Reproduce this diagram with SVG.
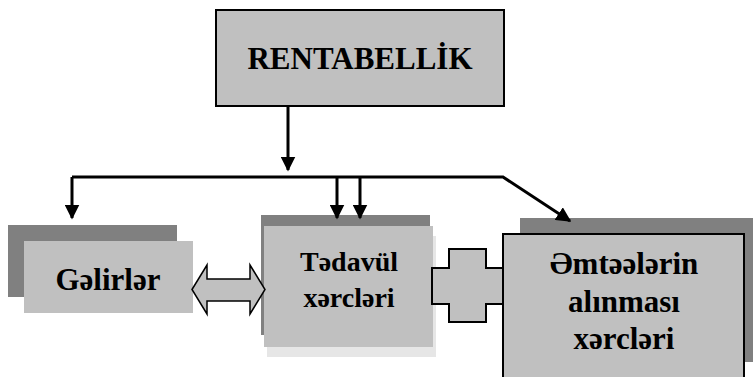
<svg xmlns="http://www.w3.org/2000/svg" width="753" height="377" viewBox="0 0 753 377">
<style>
.t{font-weight:bold;fill:#000;text-anchor:middle}
.ln{stroke:#000;stroke-width:3;fill:none}
.dk{fill:#808080}
.lt{fill:#c0c0c0}
</style>
<defs>
<marker id="ah" markerWidth="5" markerHeight="5" refX="4.5" refY="2.5" orient="auto" markerUnits="strokeWidth">
<path d="M0,0 L5,2.5 L0,5 Z" fill="#000"/>
</marker>
</defs>
<rect width="753" height="377" fill="#fff"/>
<g font-family="Times New Roman, Liberation Serif, DejaVu Serif, serif">
<g id="rentabellik">
<rect x="216" y="10" width="288" height="96" fill="#c0c0c0" stroke="#000" stroke-width="2"/>
<text class="t" x="360" y="69" font-size="31">RENTABELLİK</text>
</g>
<g id="gelirler">
<rect class="dk" x="8" y="225" width="169" height="72"/>
<rect class="lt" x="24" y="241" width="169" height="72"/>
<text class="t" x="108" y="290" font-size="31">Gəlirlər</text>
</g>
<g id="tedavul">
<rect x="267" y="236" width="169" height="121" fill="#e6e6e6"/>
<rect class="dk" x="261" y="215" width="169" height="120"/>
<rect class="lt" x="264" y="226" width="169" height="121"/>
<text class="t" x="349" y="271" font-size="28">Tədavül</text>
<text class="t" x="349" y="307" font-size="28">xərcləri</text>
</g>
<g id="emteelerin">
<rect class="dk" x="520" y="218" width="233" height="144"/>
<rect x="503" y="234" width="241" height="150" fill="#c0c0c0" stroke="#000" stroke-width="2"/>
<text class="t" x="624" y="274" font-size="31">Əmtəələrin</text>
<text class="t" x="624" y="312" font-size="31">alınması</text>
<text class="t" x="624" y="349" font-size="31">xərcləri</text>
</g>
</g>
<g id="connectors">
<line class="ln" x1="288" y1="106" x2="288" y2="170" marker-end="url(#ah)"/>
<polyline class="ln" points="72,177 503,177 570,221" marker-end="url(#ah)"/>
<path class="ln" d="M72,177 L72,218" marker-end="url(#ah)"/>
<line class="ln" x1="337" y1="177" x2="337" y2="218" marker-end="url(#ah)"/>
<line class="ln" x1="360" y1="177" x2="360" y2="218" marker-end="url(#ah)"/>
<path d="M192,289.5 L207,265 L207,279 L250,279 L250,265 L265,289.5 L250,314 L250,301 L207,301 L207,314 Z" fill="#c0c0c0" stroke="#000" stroke-width="1.5"/>
<path d="M432,268 L449,268 L449,249 L486,249 L486,268 L503,268 L503,304 L486,304 L486,322 L449,322 L449,304 L432,304 Z" fill="#c0c0c0" stroke="#000" stroke-width="2"/>
</g>
</svg>
